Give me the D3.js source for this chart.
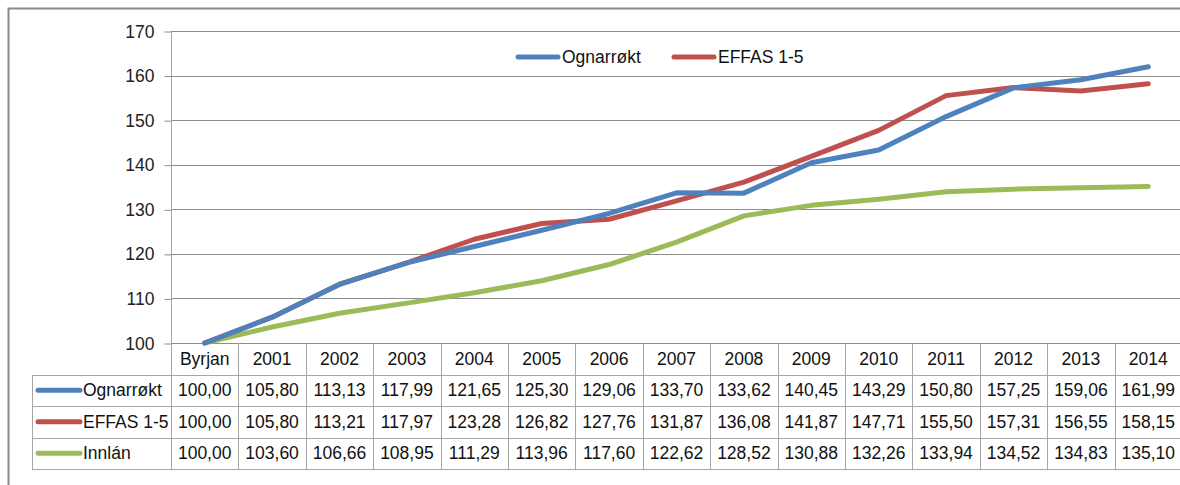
<!DOCTYPE html>
<html><head><meta charset="utf-8">
<script src="https://cdn.jsdelivr.net/npm/d3@7"></script>
<style>
html,body{margin:0;padding:0;background:#fff;}
svg{display:block;font-family:"Liberation Sans",Arial,sans-serif;}
</style></head>
<body>
<svg id="c" width="1180" height="485"></svg>
<script>
const categories = ["Byrjan","2001","2002","2003","2004","2005","2006","2007","2008","2009","2010","2011","2012","2013","2014"];
const seriesNames = ["Ognarrøkt","EFFAS 1-5","Innlán"];
const ognarrokt = [100.00,105.80,113.13,117.99,121.65,125.30,129.06,133.70,133.62,140.45,143.29,150.80,157.25,159.06,161.99];
const effas = [100.00,105.80,113.21,117.97,123.28,126.82,127.76,131.87,136.08,141.87,147.71,155.50,157.31,156.55,158.15];
const innlan = [100.00,103.60,106.66,108.95,111.29,113.96,117.60,122.62,128.52,130.88,132.26,133.94,134.52,134.83,135.10];
const yTicks = [100,110,120,130,140,150,160,170];
const colors = ["#4F81BD","#C0504D","#9BBB59"];
const seriesValues = [ognarrokt, effas, innlan];

(function(){
const svg = d3.select("#c");
const pLeft = 171, pRight = 1182, pTop = 31, pBottom = 343;
const rowH = 31.5, tableLeft = 32;
const fs = 17.5;
const gridColor = "#8c8c8c", tableColor = "#a6a6a6";

// outer frame
svg.append("rect").attr("x",8.5).attr("y",8.5).attr("width",1200).attr("height",600)
  .attr("fill","none").attr("stroke","#8a8a8a").attr("stroke-width",2);

const x = d3.scaleBand().domain(categories).range([pLeft,pRight]);
const y = d3.scaleLinear().domain([100,170]).range([pBottom,pTop]);

// gridlines
svg.append("g").selectAll("line").data(yTicks).join("line")
  .attr("x1",pLeft).attr("x2",pRight)
  .attr("y1",d=>Math.round(y(d))+0.5).attr("y2",d=>Math.round(y(d))+0.5)
  .attr("stroke",gridColor).attr("stroke-width",1);

// y axis
const yAxis = d3.axisLeft(y).tickValues(yTicks).tickSize(7).tickPadding(10).tickFormat(d3.format("d"));
const ag = svg.append("g").attr("transform",`translate(${pLeft+0.5},0.5)`).call(yAxis);
ag.select(".domain").attr("stroke",tableColor).attr("d",`M0,${pTop}V${pBottom+rowH*4}`);
ag.selectAll(".tick line").attr("stroke",gridColor);
ag.selectAll(".tick text").attr("font-size",fs).attr("fill","#222").attr("font-family","Liberation Sans, Arial, sans-serif");

// table
const rowsTop = pBottom;
const tg = svg.append("g");
for(let r=1;r<=4;r++){
  const yy = Math.round(rowsTop + r*rowH)+0.5;
  tg.append("line").attr("x1",tableLeft).attr("x2",pRight).attr("y1",yy).attr("y2",yy)
    .attr("stroke",tableColor).attr("stroke-width",1);
}
tg.append("line").attr("x1",tableLeft+0.5).attr("x2",tableLeft+0.5)
  .attr("y1",Math.round(rowsTop+rowH)+0.5).attr("y2",Math.round(rowsTop+4*rowH)+0.5)
  .attr("stroke",tableColor);
categories.forEach(c=>{
  const xx = Math.round(x(c)+x.bandwidth())+0.5;
  tg.append("line").attr("x1",xx).attr("x2",xx).attr("y1",rowsTop).attr("y2",Math.round(rowsTop+4*rowH)+0.5)
    .attr("stroke",tableColor);
});
tg.selectAll("text.h").data(categories).join("text").attr("class","h")
  .attr("x",d=>x(d)+x.bandwidth()/2).attr("y",rowsTop+rowH/2)
  .attr("dy","0.35em").attr("text-anchor","middle").attr("font-size",fs).attr("fill","#111").text(d=>d);
const fmt = v => d3.format(".2f")(v).replace(".",",");
seriesValues.forEach((vals,i)=>{
  const cy = rowsTop + rowH*(i+1) + rowH/2;
  tg.append("line").attr("x1",38).attr("x2",80).attr("y1",cy).attr("y2",cy)
    .attr("stroke",colors[i]).attr("stroke-width",5).attr("stroke-linecap","round");
  tg.append("text").attr("x",83).attr("y",cy).attr("dy","0.35em").attr("font-size",fs).attr("fill","#111").text(seriesNames[i]);
  tg.selectAll(null).data(vals).join("text")
    .attr("x",(d,j)=>x(categories[j])+x.bandwidth()/2).attr("y",cy).attr("dy","0.35em")
    .attr("text-anchor","middle").attr("font-size",fs).attr("fill","#111").text(d=>fmt(d));
});

// lines
const line = d3.line().x((d,j)=>x(categories[j])+x.bandwidth()/2).y(d=>y(d));
[2,1,0].forEach(i=>{
  svg.append("path").datum(seriesValues[i]).attr("d",line).attr("fill","none")
    .attr("stroke",colors[i]).attr("stroke-width",5).attr("stroke-linecap","round").attr("stroke-linejoin","round");
});

// legend
const legendItems = [{name:seriesNames[0],c:colors[0],x:518},{name:seriesNames[1],c:colors[1],x:674}];
const lg = svg.append("g");
legendItems.forEach(it=>{
  lg.append("line").attr("x1",it.x).attr("x2",it.x+40).attr("y1",57).attr("y2",57)
    .attr("stroke",it.c).attr("stroke-width",5).attr("stroke-linecap","round");
  lg.append("text").attr("x",it.x+44).attr("y",57).attr("dy","0.35em").attr("font-size",fs).attr("fill","#111").text(it.name);
});
})();
</script>
</body></html>
